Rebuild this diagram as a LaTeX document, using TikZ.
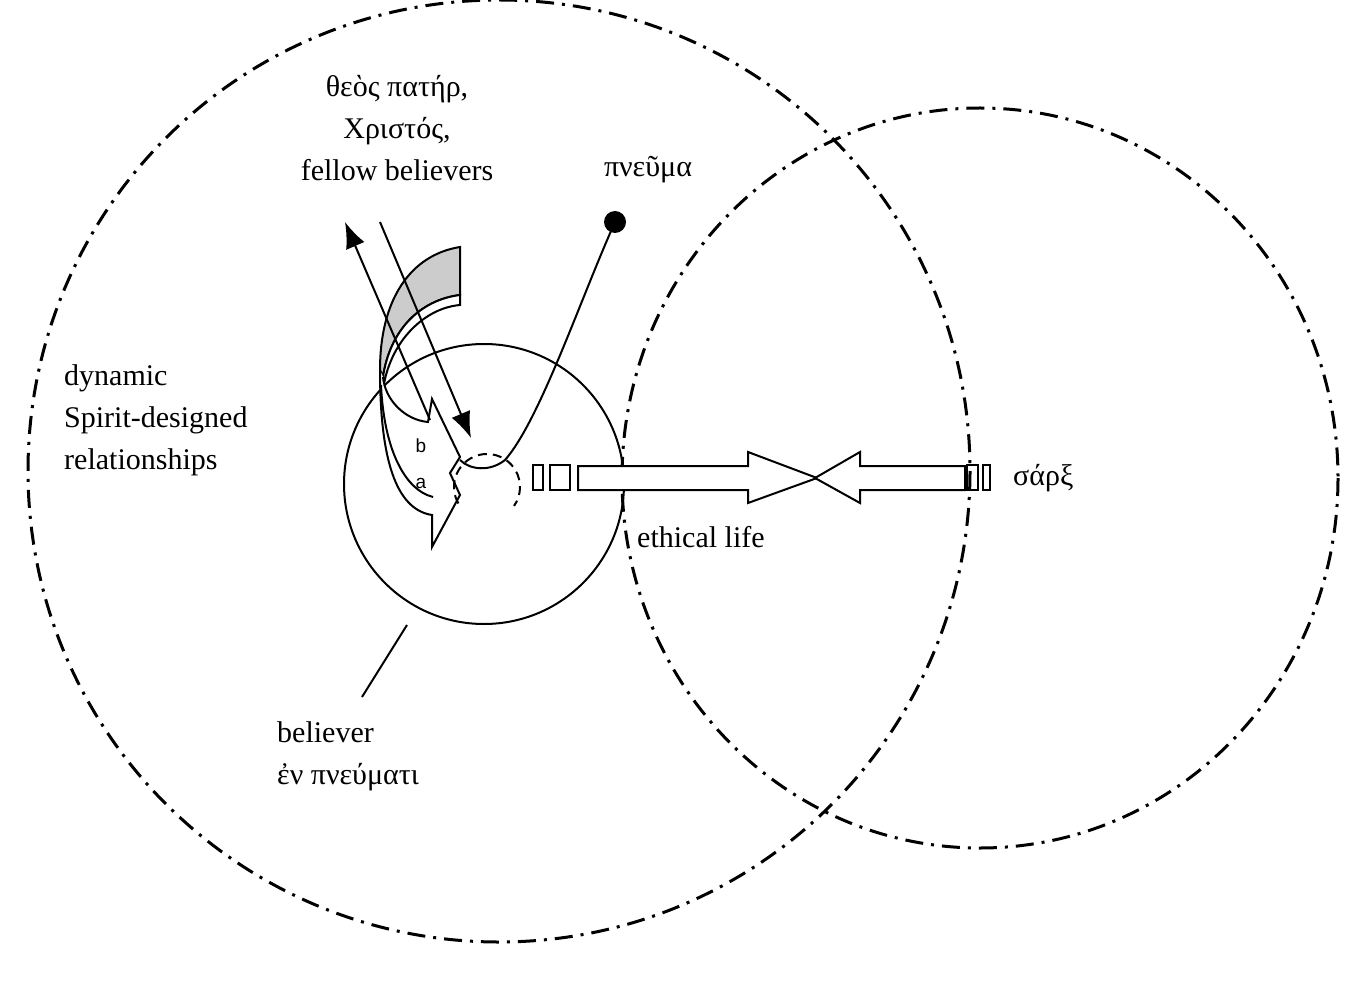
\documentclass[tikz,border=0pt]{standalone}
\usepackage{fontspec}
\setmainfont{Liberation Serif}
\setsansfont{Liberation Sans}
\usetikzlibrary{arrows.meta}
\begin{document}
\begin{tikzpicture}[x=1pt,y=-1pt,line join=miter,
  dd/.style={line width=3pt,dash pattern=on 18pt off 8pt on 3pt off 8pt},
  ln/.style={line width=2pt},
  lbl/.style={font=\fontsize{30}{42}\selectfont,inner sep=0pt},
  sm/.style={font=\sffamily\fontsize{19}{20}\selectfont,inner sep=0pt}]
\useasboundingbox (0,0) rectangle (1362,981);
\draw[dd] (499,471) ellipse [x radius=471,y radius=471];
\draw[dd] (980,478) ellipse [x radius=358,y radius=370];
% believer circle
\draw[ln] (484,484) circle [radius=140];
% gray band
\draw[ln,fill=gray!40] (460,247) .. controls (410,255) and (380,300) .. (380,370) -- (383,377)
  .. controls (390,330) and (420,300) .. (460,295) -- cycle;
\draw[ln,fill=white] (460,295) .. controls (420,300) and (390,330) .. (383,377)
  -- (384,384) .. controls (392,340) and (425,308) .. (460,305) -- cycle;
% arrows b and a
\draw[ln,fill=white] (380,370) .. controls (380,470) and (400,510) .. (432,515)
  -- (432,547) -- (460,495) -- (450,473) -- (460,457) -- (432,399) -- (428,422)
  .. controls (405,420) and (385,400) .. (383,377);
\draw[ln] (381,385) .. controls (384,450) and (405,490) .. (433,497);
\node[sm] (lb) at (421,446) {b};
\node[sm] (la) at (421,483) {a};
% dashed small circle
\draw[ln,dashed,dash pattern=on 9pt off 6pt] (487,487) ++(150:33) arc [start angle=150,end angle=395,radius=33];
% pneuma curve
\fill (615,222) circle [radius=11];
\coordinate (pd) at (615,222);
\draw[ln] (460,460) .. controls (470,470) and (490,472) .. (505,460) .. controls (540,420) and (580,300) .. (pd);
% straight arrows
\draw[ln,-{Latex[length=26pt,width=20pt]}] (430,420) -- (345,222);
\draw[ln,-{Latex[length=26pt,width=20pt]}] (380,222) -- (471,438);
% ethical arrows
\draw[ln] (533,465) rectangle (543,490);
\draw[ln] (550,465) rectangle (570,490);
\draw[ln,fill=white] (578,466) -- (748,466) -- (748,452) -- (817,478) -- (748,503) -- (748,490) -- (578,490) -- cycle;
\draw[ln,fill=white] (965,466) -- (860,466) -- (860,452) -- (815,478) -- (860,503) -- (860,490) -- (965,490) -- cycle;
\draw[ln] (967,465) rectangle (978,490);
\draw[ln] (983,465) rectangle (990,490);
% pointer line
\draw[ln] (407,625) -- (362,697);
% labels
\node[lbl,align=center] (top) at (397,128) {θεὸς πατήρ,\\Χριστός,\\fellow believers};
\node[lbl] (pn) at (648,170) {πνεῦμα};
\node[lbl,align=left,anchor=west] (dyn) at (64,420) {dynamic\\Spirit-designed\\relationships};
\node[lbl,anchor=west] (sarx) at (1013,478) {σάρξ};
\node[lbl,anchor=west] (eth) at (637,537) {ethical life};
\node[lbl,align=left,anchor=west] (bel) at (277,756) {believer\\ἐν πνεύματι};
\end{tikzpicture}
\end{document}
